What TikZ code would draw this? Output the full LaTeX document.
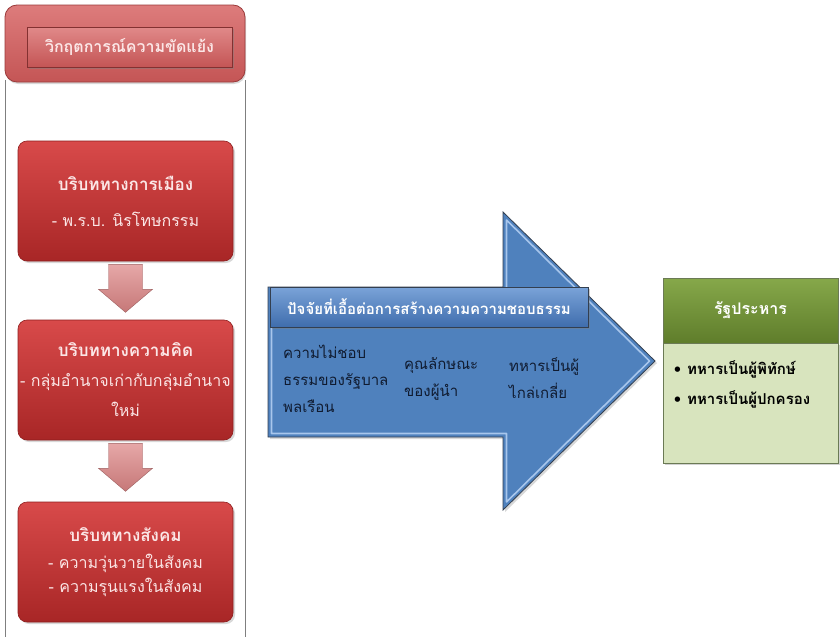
\documentclass[tikz,border=0pt]{standalone}
\usepackage{fontspec}
\newfontfamily\thai[Script=Thai]{Loma}
\usetikzlibrary{calc,shadows}
\definecolor{redtop}{HTML}{D84A4A}
\definecolor{redbot}{HTML}{A82626}
\definecolor{redline}{HTML}{8E1E1E}
\definecolor{redtext}{HTML}{FBE6E6}
\definecolor{pinktop}{HTML}{DD7C7C}
\definecolor{pinkbot}{HTML}{C45555}
\definecolor{pinkline}{HTML}{9A3A3A}
\definecolor{arrtop}{HTML}{E6A8A8}
\definecolor{arrbot}{HTML}{C67878}
\definecolor{bluefill}{HTML}{4F81BD}
\definecolor{bluelight}{HTML}{A8C6EC}
\definecolor{bluedark}{HTML}{333F50}
\definecolor{hdrtop}{HTML}{7AA3D8}
\definecolor{hdrbot}{HTML}{3F6DAD}
\definecolor{navytext}{HTML}{101B30}
\definecolor{greentop}{HTML}{86A84A}
\definecolor{greenbot}{HTML}{5F7D2B}
\definecolor{greenbody}{HTML}{D8E4BE}
\definecolor{greenline}{HTML}{6B7A55}
\definecolor{framegray}{HTML}{7F7F7F}
\tikzset{
  redbox/.style={rounded corners=9pt, minimum width=215pt, minimum height=120pt,
    top color=redtop, bottom color=redbot, draw=redline, line width=0.6pt,
    drop shadow={opacity=0.3, shadow xshift=2pt, shadow yshift=-2pt},
    text=redtext, align=center, inner sep=0pt,
    font=\thai\fontsize{16}{24}\selectfont},
  boxtitle/.style={},
  downarr/.style={top color=arrtop, bottom color=arrbot, draw=arrbot!80!black, line width=0.4pt},
  bodytext/.style={text=navytext, align=left, anchor=north west, inner sep=0pt,
    font=\thai\fontsize{15}{27}\selectfont},
  frameline/.style={draw=framegray, line width=0.8pt}
}
\newcommand{\ttl}[1]{{\bfseries\fontsize{17}{24}\selectfont #1}}
\begin{document}
\begin{tikzpicture}[x=1pt,y=-1pt]
\useasboundingbox (0,0) rectangle (840,637);
\fill[white] (0,0) rectangle (840,637);

% left frame
\node[rounded corners=12pt, minimum width=240pt, minimum height=77pt,
      top color=pinktop, bottom color=pinkbot, draw=pinkline, line width=0.8pt,
      drop shadow={opacity=0.3, shadow xshift=1pt, shadow yshift=-2pt}] (crisisbox) at (125,43.5) {};
\coordinate (fl) at (5,637);
\coordinate (fr) at (245,637);
\draw[frameline] (crisisbox.south west -| fl) ++(0,-2) -- (fl);
\draw[frameline] (crisisbox.south east -| fr) ++(0,-2) -- (fr);
\node[minimum width=205pt, minimum height=40pt, top color=pinktop!90!white, bottom color=pinkbot,
      draw=pinkline!85!black, line width=0.8pt,
      drop shadow={opacity=0.45, shadow xshift=2pt, shadow yshift=-2pt},
      text=redtext, inner sep=0pt, font=\thai\bfseries\fontsize{16}{20}\selectfont] (crisis) at (129.5,47) {วิกฤตการณ์ความขัดแย้ง};

\node[redbox] (b1) at (125.5,201) {\ttl{บริบททางการเมือง}\\[12pt]- พ.ร.บ. นิรโทษกรรม};
\node[redbox] (b2) at (125.5,380) {\ttl{บริบททางความคิด}\\[6pt]- กลุ่มอำนาจเก่ากับกลุ่มอำนาจ\\[6pt]ใหม่};
\node[redbox] (b3) at (125.5,562) {\ttl{บริบททางสังคม}\\[3pt]- ความวุ่นวายในสังคม\\[0pt]- ความรุนแรงในสังคม};

\draw[downarr] ($(b1.south)+(-17,3)$) -- ++(34,0) -- ++(0,25) -- ++(10,0) -- ++(-27,23) -- ++(-27,-23) -- ++(10,0) -- cycle;
\draw[downarr] ($(b2.south)+(-17,3)$) -- ++(34,0) -- ++(0,25) -- ++(10,0) -- ++(-27,23) -- ++(-27,-23) -- ++(10,0) -- cycle;

% big arrow
\draw[fill=bluefill, draw=bluedark, line width=0.8pt,
      drop shadow={opacity=0.3, shadow xshift=2pt, shadow yshift=-2pt}]
  (268,287) -- (503,287) -- (503,212) -- (655,361) -- (503,510) -- (503,437) -- (268,437) -- cycle;
\draw[bluelight, line width=1.6pt, line join=round]
  (271.5,290) -- (506.5,290) -- (506.5,220) -- (649.5,361) -- (506.5,502) -- (506.5,433.5) -- (271.5,433.5) -- cycle;
\node[minimum width=318pt, minimum height=40pt, top color=hdrtop, bottom color=hdrbot,
      draw=bluedark, line width=0.8pt,
      drop shadow={opacity=0.4, shadow xshift=2pt, shadow yshift=-2pt},
      text=white, inner sep=0pt, font=\thai\bfseries\fontsize{15}{18}\selectfont] (factors) at (429,307) {ปัจจัยที่เอื้อต่อการสร้างความความชอบธรรม};
\node[bodytext] (f1) at (283,345) {ความไม่ชอบ\\ธรรมของรัฐบาล\\พลเรือน};
\node[bodytext] (f2) at (404,357) {คุณลักษณะ\\ของผู้นำ};
\node[bodytext] (f3) at (509,357) {ทหารเป็นผู้\\ไกล่เกลี่ย};

% coup box
\node[minimum width=175pt, minimum height=120pt, fill=greenbody, draw=greenline, line width=0.8pt,
      drop shadow={opacity=0.35, shadow xshift=2pt, shadow yshift=-2pt}] (coupbody) at (750.5,403) {};
\node[minimum width=175pt, minimum height=65pt, top color=greentop, bottom color=greenbot,
      draw=greenline, line width=0.8pt, text=white, inner sep=0pt,
      font=\thai\bfseries\fontsize{16}{20}\selectfont] (coup) at (750.5,310.5) {รัฐประหาร};
\node[anchor=north west, inner sep=0pt, text=black, align=left,
      font=\thai\bfseries\fontsize{15}{30}\selectfont] (couplist) at (674,360)
  {\textbullet\hspace{6pt}ทหารเป็นผู้พิทักษ์\\\textbullet\hspace{6pt}ทหารเป็นผู้ปกครอง};
\end{tikzpicture}
\end{document}
